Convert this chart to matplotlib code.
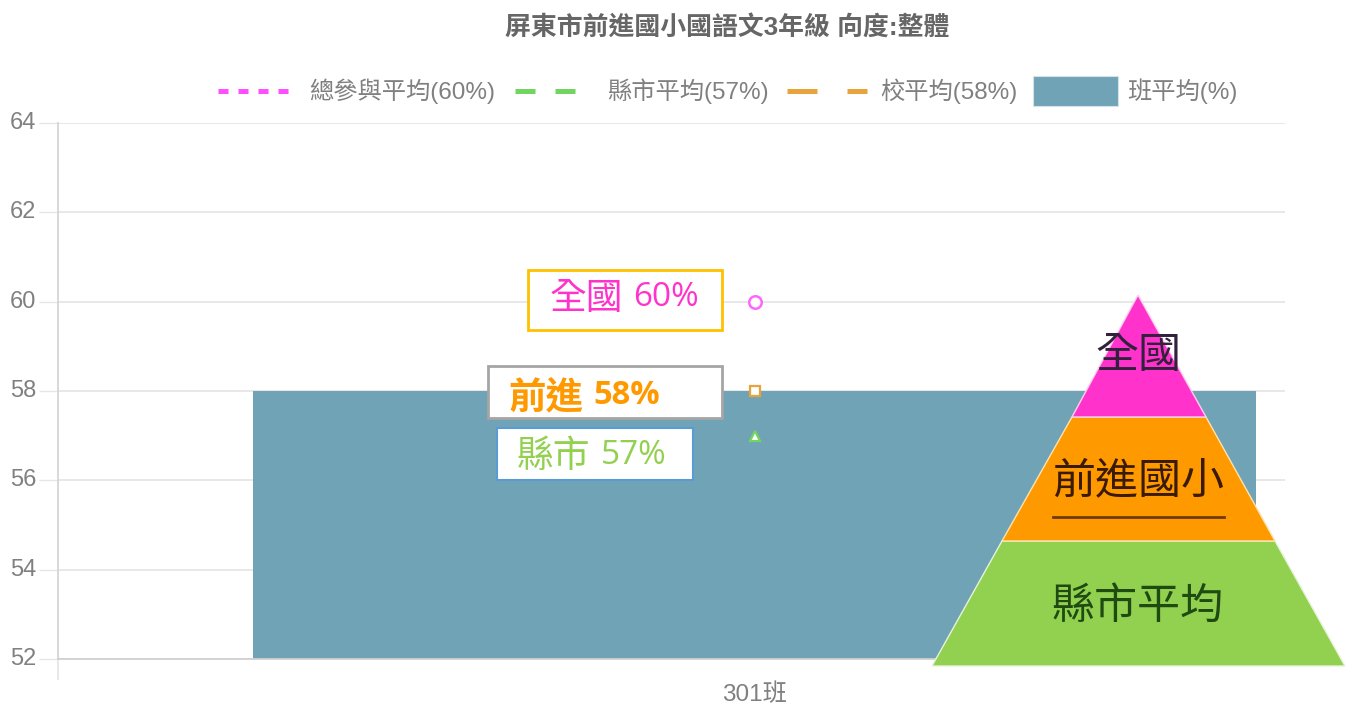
import matplotlib
matplotlib.use('Agg')
import matplotlib.pyplot as plt
from matplotlib.patches import Rectangle, Polygon

plt.rcParams['font.family'] = ['Liberation Sans', 'Noto Sans CJK TC', 'DejaVu Sans']

W, H = 1354, 704

title = '屏東市前進國小國語文3年級 向度:整體'
categories = ['301班']
class_avg = [58]
national_avg = [60]
county_avg = [57]
school_avg = [58]
y_ticks = [52, 54, 56, 58, 60, 62, 64]

GREY = '#808080'
BAR = '#71A3B7'
PINK = '#FF33CC'
ORANGE = '#FF9900'
GREEN = '#92D050'

fig = plt.figure(figsize=(W / 100, H / 100), dpi=100)
ax = fig.add_axes([58 / W, 1 - 659 / H, (1285 - 58) / W, (659 - 123) / H])

# main chart, category 0 sits right of the axes centre like the original
x = list(range(len(categories)))
ax.bar(x, class_avg, width=0.9, color=BAR, zorder=2)
ax.plot(x, national_avg, ls='', marker='o', ms=9, mfc='white', mec='#FF66FF', mew=1.8, zorder=3, clip_on=False)
ax.plot(x, school_avg, ls='', marker='s', ms=6.5, mfc='white', mec='#E8A33D', mew=1.6, zorder=3)
ax.plot(x, county_avg, ls='', marker='^', ms=6.5, mfc='white', mec='#72D55F', mew=1.6, zorder=3)

ax.set_xlim(-0.625, 0.476)
ax.set_ylim(52, 64)
ax.set_yticks(y_ticks)
ax.set_xticks(x, categories)
ax.grid(axis='y', color='#E6E6E6', lw=1.3, zorder=1)
ax.tick_params(axis='y', length=14, width=1.0, color='#E6E6E6', labelsize=17, labelcolor=GREY, pad=1.5)
ax.tick_params(axis='x', length=0, labelsize=17.5, labelcolor=GREY, pad=18)
for lab in ax.get_yticklabels():
    lab.set_y(lab.get_position()[1])
    lab.set_verticalalignment('center')
for s in ['top', 'right']:
    ax.spines[s].set_visible(False)
ax.spines['left'].set_color('#D5D5D5')
ax.spines['left'].set_linewidth(1.3)
ax.spines['left'].set_bounds(52, 64)
ax.spines['bottom'].set_color('#D0D0D0')
ax.spines['bottom'].set_linewidth(1.3)
ax.plot([0, 0], [0, -20 / 536], transform=ax.transAxes, color='#E6E6E6', lw=1.3, clip_on=False)

# overlay in picture pixels for legend, callouts and the pyramid
ov = fig.add_axes([0, 0, 1, 1], zorder=5)
ov.set_xlim(0, W)
ov.set_ylim(H, 0)
ov.axis('off')
ov.patch.set_alpha(0)

ov.text(727, 27, title, ha='center', va='center', fontsize=18.6, fontweight='bold', color='#666666')

# legend
ov.plot([218, 290], [91, 91], color='#FF4DFF', lw=3.6, ls=(0, (2, 2)), dash_capstyle='butt')
ov.plot([515, 575], [91, 91], color='#72D55F', lw=3.6, ls=(0, (4, 4)), dash_capstyle='butt')
ov.plot([787, 867], [91, 91], color='#E8A33D', lw=3.6, ls=(0, (6, 6)), dash_capstyle='butt')
ov.add_patch(Rectangle((1033, 76), 85, 30, fc=BAR, ec='#D5E3E9', lw=0.8))
legend_labels = [(309, '總參與平均(60%)'), (607, '縣市平均(57%)'), (880, '校平均(58%)'), (1127, '班平均(%)')]
for lx, txt in legend_labels:
    ov.text(lx, 91, txt, ha='left', va='center', fontsize=17.5, color=GREY)

# callout boxes
boxes = [
    (528, 270, 194, 60, '#FFC000', 2),
    (488, 366, 234, 52, '#A5A5A5', 2),
    (497, 428, 196, 52, '#5B9BD5', 1.5),
]
for bx, by, bw, bh, ec, lw in boxes:
    ov.add_patch(Rectangle((bx, by), bw, bh, fc='white', ec=ec, lw=lw))

ov.text(550, 299, '全國', ha='left', va='center', fontsize=26.5, color=PINK, family='Noto Sans CJK TC', fontweight='light')
ov.text(633, 298, '60%', ha='left', va='center', fontsize=24, color=PINK, family='Open Sans')
ov.text(509, 397, '前進', ha='left', va='center', fontsize=27, color=ORANGE, family='Noto Sans CJK TC', fontweight='bold')
ov.text(593, 395, '58%', ha='left', va='center', fontsize=23.5, color=ORANGE, family='Open Sans', fontweight='bold')
ov.text(517, 457, '縣市', ha='left', va='center', fontsize=26.5, color=GREEN, family='Noto Sans CJK TC', fontweight='light')
ov.text(601, 456, '57%', ha='left', va='center', fontsize=24, color=GREEN, family='Open Sans')

# pyramid
ov.add_patch(Polygon([(932, 666), (1002, 541), (1275, 541), (1345, 666)], fc=GREEN, ec='#E8F2D8', lw=1))
ov.add_patch(Polygon([(1002, 541), (1072, 417), (1206, 417), (1275, 541)], fc=ORANGE, ec='#FBE3B0', lw=1))
ov.add_patch(Polygon([(1072, 417), (1138, 295), (1206, 417)], fc=PINK, ec='#FBD0EE', lw=1))
ov.text(1138, 356, '全國', ha='center', va='center', fontsize=31, color='#33203F', family='Noto Sans CJK TC', fontweight='light')
ov.text(1138, 481, '前進國小', ha='center', va='center', fontsize=31, color='#3A1A00', family='Noto Sans CJK TC')
ov.plot([1053, 1224], [517, 517], color='#6E3A05', lw=2)
ov.text(1138, 607, '縣市平均', ha='center', va='center', fontsize=31, color='#1F4A12', family='Noto Sans CJK TC')

fig.savefig('out.png', dpi=100)
